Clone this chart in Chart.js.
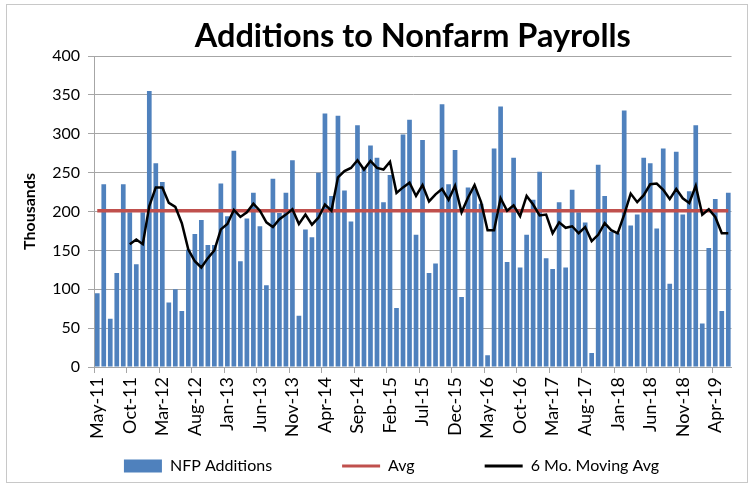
<!DOCTYPE html>
<html>
<head>
<meta charset="utf-8">
<script src="https://cdn.jsdelivr.net/npm/chart.js@4"></script>
<style>
  html, body { margin: 0; padding: 0; background: #fff; }
  #wrap { width: 754px; height: 487px; position: relative; }
</style>
</head>
<body>
<div id="wrap"><canvas id="nfpChart"></canvas></div>
<script>
// monthly categories, May-11 .. Jun-19
const months = [
  'May-11','Jun-11','Jul-11','Aug-11','Sep-11','Oct-11','Nov-11','Dec-11',
  'Jan-12','Feb-12','Mar-12','Apr-12','May-12','Jun-12','Jul-12','Aug-12','Sep-12','Oct-12','Nov-12','Dec-12',
  'Jan-13','Feb-13','Mar-13','Apr-13','May-13','Jun-13','Jul-13','Aug-13','Sep-13','Oct-13','Nov-13','Dec-13',
  'Jan-14','Feb-14','Mar-14','Apr-14','May-14','Jun-14','Jul-14','Aug-14','Sep-14','Oct-14','Nov-14','Dec-14',
  'Jan-15','Feb-15','Mar-15','Apr-15','May-15','Jun-15','Jul-15','Aug-15','Sep-15','Oct-15','Nov-15','Dec-15',
  'Jan-16','Feb-16','Mar-16','Apr-16','May-16','Jun-16','Jul-16','Aug-16','Sep-16','Oct-16','Nov-16','Dec-16',
  'Jan-17','Feb-17','Mar-17','Apr-17','May-17','Jun-17','Jul-17','Aug-17','Sep-17','Oct-17','Nov-17','Dec-17',
  'Jan-18','Feb-18','Mar-18','Apr-18','May-18','Jun-18','Jul-18','Aug-18','Sep-18','Oct-18','Nov-18','Dec-18',
  'Jan-19','Feb-19','Mar-19','Apr-19','May-19','Jun-19'
];

// NFP additions, thousands
const nfpAdditions = [
  95, 235, 62, 121, 235, 199, 132, 199,
  355, 262, 238, 83, 100, 72, 151, 171, 189, 157, 157, 236,
  194, 278, 136, 191, 224, 181, 105, 242, 198, 224, 266, 66,
  177, 167, 250, 326, 220, 323, 227, 187, 311, 257, 285, 269,
  212, 247, 76, 299, 318, 170, 292, 121, 133, 338, 235, 279,
  90, 231, 229, 210, 15, 281, 335, 135, 269, 128, 170, 215,
  251, 140, 126, 212, 128, 228, 199, 186, 18, 260, 220, 174,
  172, 330, 182, 196, 269, 262, 178, 281, 107, 277, 196, 226,
  311, 56, 153, 216, 72, 224
];

// 6 month moving average (starts Oct-11)
const movingAvg6 = [
  null, null, null, null, null, 158, 164, 158,
  207, 231, 231, 211, 206, 185, 151, 136, 128, 140, 150, 177,
  184, 202, 193, 199, 210, 201, 186, 180, 190, 196, 203, 184,
  196, 183, 192, 209, 201, 244, 252, 256, 266, 254, 265, 256,
  254, 264, 224, 231, 237, 220, 234, 213, 222, 229, 215, 233,
  199, 218, 234, 212, 176, 176, 217, 201, 208, 194, 220, 209,
  195, 196, 172, 186, 179, 181, 172, 180, 162, 170, 185, 176,
  172, 196, 223, 212, 221, 235, 236, 228, 216, 229, 217, 211,
  233, 196, 203, 193, 172, 172
];

const avgValue = 201;
const avgLine = months.map(() => avgValue);

const blue = '#4f81bd';
const red = '#c0504d';
const gridGray = '#a6a6a6';
const fontFam = 'Lato, "Open Sans", sans-serif';

// white background + thin frame like the Excel chart area
const framePlugin = {
  id: 'frame',
  beforeDraw(chart) {
    const c = chart.ctx;
    c.save();
    c.fillStyle = '#fff';
    c.fillRect(0, 0, chart.width, chart.height);
    c.strokeStyle = '#c8c8c8';
    c.lineWidth = 1;
    c.strokeRect(6.5, 4.5, 741, 478);
    c.restore();
  }
};

new Chart(document.getElementById('nfpChart'), {
  data: {
    labels: months,
    datasets: [
      {
        type: 'bar', label: 'NFP Additions', data: nfpAdditions,
        backgroundColor: blue, borderWidth: 0,
        categoryPercentage: 1, barPercentage: 0.72, order: 3
      },
      {
        type: 'line', label: 'Avg', data: avgLine,
        borderColor: red, borderWidth: 3.5, pointRadius: 0, order: 2
      },
      {
        type: 'line', label: '6 Mo. Moving Avg', data: movingAvg6,
        borderColor: '#000', borderWidth: 2.5, pointRadius: 0, order: 1
      }
    ]
  },
  options: {
    responsive: true,
    maintainAspectRatio: false,
    animation: false,
    layout: { padding: { left: 50, right: 21, top: 0, bottom: 3 } },
    plugins: {
      tooltip: { enabled: false },
      title: {
        display: true, fullSize: false,
        text: 'Additions to Nonfarm Payrolls',
        color: '#000',
        font: { family: fontFam, size: 32.5, weight: 'bold' },
        padding: { top: 17, bottom: 0 }
      },
      legend: {
        position: 'bottom',
        labels: {
          color: '#000',
          font: { family: fontFam, size: 16 },
          usePointStyle: true, pointStyleWidth: 38, boxHeight: 13,
          padding: 70,
          generateLabels: chart => chart.data.datasets.map((ds, i) => ({
            text: ds.label,
            datasetIndex: i,
            fillStyle: ds.type === 'bar' ? blue : ds.borderColor,
            strokeStyle: ds.type === 'bar' ? blue : ds.borderColor,
            lineWidth: ds.type === 'bar' ? 0 : 3,
            pointStyle: ds.type === 'bar' ? 'rect' : 'line',
            hidden: false
          }))
        }
      }
    },
    scales: {
      x: {
        offset: true,
        afterFit: s => {
          s.height = 21;
          // the wide legend sits right under the axis, so let the rotated labels hang past the axis box
          s._computeLabelArea = () => undefined;
        },
        grid: {
          offset: true, drawOnChartArea: false, tickLength: 6,
          color: ctx => (ctx.index % 5 === 0 ? gridGray : 'rgba(0,0,0,0)')
        },
        border: { color: gridGray },
        ticks: {
          autoSkip: false, minRotation: 90, maxRotation: 90,
          color: '#000', padding: 4,
          font: { family: fontFam, size: 18 },
          callback: function (val, idx) {
            return idx % 5 === 0 ? this.getLabelForValue(val) : '';
          }
        }
      },
      y: {
        min: 0, max: 400,
        afterFit: s => { s.width = 44; },
        grid: { color: gridGray, tickLength: 6 },
        border: { color: gridGray },
        ticks: {
          stepSize: 50, color: '#000', padding: 8,
          font: { family: fontFam, size: 16 }
        },
        title: {
          display: true, text: 'Thousands', color: '#000',
          font: { family: fontFam, size: 16, weight: 'bold' },
          padding: { top: -30, bottom: 0 }
        }
      }
    }
  },
  plugins: [framePlugin]
});
</script>
</body>
</html>
